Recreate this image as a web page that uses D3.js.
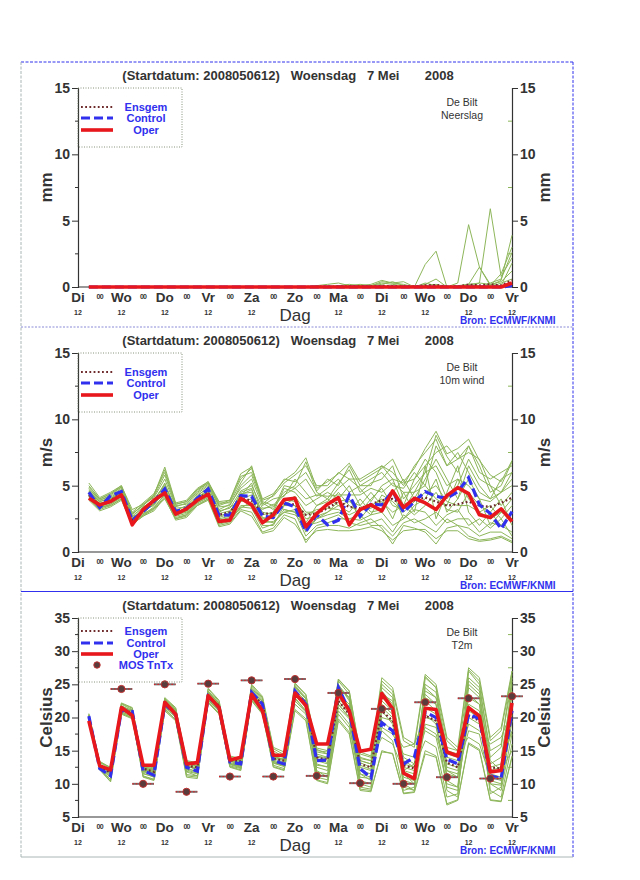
<!DOCTYPE html>
<html>
  <head>
    <meta http-equiv="Content-Type" content="text/html;charset=utf-8"/>
    <script src="https://d3js.org/d3.v7.min.js"></script>
    <style type="text/css">
    body { margin: 0; background: #fff; }
    text { font-family: "Liberation Sans", Arial, sans-serif; }
    </style>
  </head>
  <body>
    <script type="text/javascript">
    // forecast steps, hours after Di 12 UTC
    var hours = d3.range(6, 241, 6);
    var dayNames = ["Di", "Wo", "Do", "Vr", "Za", "Zo", "Ma", "Di", "Wo", "Do", "Vr"];
    var titleText = "(Startdatum: 2008050612)   Woensdag   7 Mei       2008";

    // ---- Neerslag (mm)
    var precipOper = [0,0,0,0,0,0,0,0,0,0,0,0,0,0,0,0,0,0,0,0,0,0,0,0,0,0,0,0,0,0,0,0,0,0,0,0,0,0,0,0.3];
    var precipControl = [0,0,0,0,0,0,0,0,0,0,0,0,0,0,0,0,0,0,0,0,0,0,0,0,0,0,0,0,0,0,0,0,0,0,0,0,0,0,0,0.1];
    var precipMean = [0,0,0,0,0,0,0,0,0,0,0,0,0,0,0,0,0,0,0,0,0,0.02,0.03,0.04,0.05,0.04,0.05,0.08,0.07,0.05,0.04,0.12,0.15,0.03,0.05,0.18,0.12,0.2,0.12,0.5];
    var precipMembers = [
      [0,0,0,0,0,0,0,0,0,0,0,0,0,0,0,0,0,0,0,0,0,0,0,0.1,0.2,0.1,0.2,0.5,0.3,0.4,0,1.7,2.7,0,0,0.2,0.1,0,0.3,0.6],
      [0,0,0,0,0,0,0,0,0,0,0,0,0,0,0,0,0,0,0,0,0,0,0,0,0,0,0.1,0.3,0.2,0.1,0,0.2,0.6,0,0.3,4.7,1.5,0.1,0.5,3.9],
      [0,0,0,0,0,0,0,0,0,0,0,0,0,0,0,0,0,0,0,0,0,0,0,0,0,0,0,0,0,0,0,0,0,0,0,0,0.3,5.9,0.8,2.2],
      [0,0,0,0,0,0,0,0,0,0,0,0,0,0,0,0,0,0,0,0,0,0.1,0.2,0.3,0.1,0.2,0.1,0.4,0.3,0.2,0,0.3,0.1,0,0.1,0.2,0.3,0.2,0.4,1.2],
      [0,0,0,0,0,0,0,0,0,0,0,0,0,0,0,0,0,0,0,0,0,0,0,0,0,0.1,0.1,0.2,0.4,0.1,0,0.1,0.2,0,0,0.1,0,0.1,1.0,3.0],
      [0,0,0,0,0,0,0,0,0,0,0,0,0,0,0,0,0,0,0,0,0,0,0,0,0,0,0,0.1,0,0,0,0,0,0,0,0.2,1.5,0.2,0.1,1.8],
      [0,0,0,0,0,0,0,0,0,0,0,0,0,0,0,0,0,0,0,0,0,0,0,0,0,0,0,0,0,0,0,0,0,0,0,0,0,0.3,0.6,2.6]
    ];

    // ---- 10m wind (m/s)
    var windOper = [4.05,3.55,3.8,4.3,2.05,3.2,3.9,4.45,2.85,3.25,3.9,4.35,2.3,2.4,4.05,3.55,2.2,2.8,3.95,4.05,1.9,2.9,3.6,4.1,2.05,3.2,3.55,3.1,4.6,3.35,4.05,3.7,3.2,4.25,4.85,4.4,2.8,2.6,3.25,2.3];
    var windControl = [4.5,3.35,4.25,4.55,2.4,3.05,3.8,4.75,3.05,3.3,4.05,4.75,2.75,2.8,4.25,4.2,2.7,2.6,3.7,3.4,1.55,2.8,2.05,2.4,4.3,2.7,3.6,3.55,4.6,3.0,3.8,4.55,4.2,4.05,4.55,5.6,3.55,2.9,1.75,3.05];
    var windMean = [4.3,3.5,3.9,4.4,2.4,3.1,3.8,4.6,3.0,3.2,4.0,4.5,2.8,3.0,4.0,3.9,2.9,2.9,3.6,3.6,2.8,2.9,3.3,3.8,3.4,3.3,3.6,3.9,4.0,3.5,3.9,4.1,3.8,3.5,3.6,3.8,3.5,3.4,3.7,4.1];
    var windMembers = [
      [4.8,3.9,4.3,4.9,2.9,3.5,4.2,5.8,3.5,3.6,4.6,5.2,3.5,3.8,5.5,6.3,3.8,3.5,4.5,5.0,6.8,4.5,4.0,5.2,6.2,4.5,5.2,5.5,6.5,4.0,5.0,6.0,8.8,7.2,6.0,8.0,6.5,4.5,5.0,6.8],
      [4.0,3.2,3.5,4.0,2.0,2.8,3.2,4.2,2.5,2.7,3.6,4.0,2.0,2.2,3.2,3.0,1.5,1.8,2.8,2.5,0.7,1.8,2.0,2.0,1.8,2.2,2.5,1.8,0.6,2.0,1.8,1.5,0.6,1.8,2.0,1.2,0.9,1.0,1.2,0.8],
      [4.5,3.6,3.9,4.5,2.4,3.1,3.9,4.8,3.0,3.3,4.1,4.7,2.6,2.9,4.5,4.8,2.5,2.6,3.8,4.2,3.0,3.0,3.5,4.5,3.5,3.0,4.0,4.8,3.5,3.2,4.5,5.0,4.0,3.5,5.5,4.0,3.0,3.5,2.5,3.5],
      [4.2,3.4,3.7,4.2,2.6,3.0,3.6,4.5,2.8,3.0,3.8,4.3,3.0,3.4,3.8,4.0,3.2,3.6,3.2,3.0,2.2,3.5,4.0,3.5,3.0,4.0,3.0,3.2,4.5,2.5,3.5,4.0,5.5,3.0,4.0,5.5,4.0,2.0,3.0,4.0],
      [5.2,4.1,4.5,5.0,3.2,3.6,4.3,6.4,3.7,3.9,4.8,5.3,3.8,3.9,5.9,6.4,4.0,4.4,5.4,6.0,7.1,4.8,5.3,5.9,6.7,5.3,5.8,6.3,7.0,5.3,6.3,7.8,9.1,7.4,7.8,8.5,6.9,5.8,5.3,6.9],
      [4.6,3.5,4.0,4.6,2.2,3.3,4.0,5.0,3.2,3.0,4.3,4.8,2.4,2.6,4.0,4.3,2.0,2.0,3.5,3.5,1.5,2.5,3.0,3.8,4.0,2.5,3.5,4.0,2.5,4.5,3.0,6.5,2.5,4.5,6.5,3.0,2.0,3.0,4.0,2.0],
      [4.3,3.7,3.8,4.4,2.7,2.9,3.7,4.6,2.9,3.4,4.0,4.5,2.9,3.1,4.2,5.2,2.8,3.0,4.8,4.5,3.5,4.0,4.5,4.0,5.0,3.5,4.5,3.5,4.5,5.5,4.0,5.5,7.0,5.5,4.0,6.5,5.0,4.0,4.5,5.0],
      [3.9,3.1,3.4,3.9,2.1,2.7,3.1,4.1,2.4,2.6,3.5,3.9,1.9,2.1,3.1,2.7,1.4,1.6,2.6,2.1,0.9,1.6,1.7,1.6,1.6,1.7,1.9,1.6,0.9,1.6,1.7,1.7,1.0,1.6,1.6,1.0,0.8,0.9,1.1,0.7],
      [4.4,3.8,4.1,4.7,2.5,3.4,3.8,5.2,3.1,3.5,4.4,5.0,3.2,3.6,4.8,5.5,3.5,4.0,4.2,5.5,4.5,3.5,3.8,4.8,5.5,4.8,3.8,5.0,5.5,3.5,5.5,7.0,6.0,4.0,5.0,7.0,5.5,5.0,3.5,4.5],
      [4.1,3.3,3.6,4.1,2.3,2.8,3.4,4.3,2.6,2.8,3.7,4.1,2.2,2.4,3.5,3.5,2.2,2.3,3.0,2.8,2.0,2.2,2.5,2.8,2.2,2.0,2.2,2.5,1.5,2.8,2.2,2.5,3.0,2.2,2.5,2.5,1.5,2.2,2.0,1.5],
      [4.7,3.9,4.2,4.8,2.8,3.6,4.1,5.5,3.4,3.7,4.5,5.1,3.4,3.5,5.0,5.8,3.7,3.2,5.0,4.8,5.5,4.2,4.8,5.5,4.5,5.0,5.5,6.0,5.0,4.8,6.0,5.0,8.0,6.5,7.5,6.0,4.5,4.0,5.5,6.0],
      [4.3,3.5,3.9,4.3,2.5,3.2,3.5,4.7,3.0,3.2,3.9,4.6,2.7,3.0,4.4,4.5,3.0,2.8,4.0,3.8,2.8,3.2,3.3,3.2,2.8,3.2,3.3,3.8,3.0,3.5,2.8,3.5,4.5,3.2,3.0,4.5,3.5,3.0,2.0,3.0],
      [4.9,4.0,4.4,5.0,3.0,3.7,4.4,6.0,3.6,3.8,4.7,5.3,3.6,3.9,5.7,6.0,3.9,4.2,5.2,5.8,6.5,5.0,5.0,6.0,5.5,5.5,6.0,6.5,6.0,5.0,6.5,7.5,8.5,6.5,7.0,8.0,6.0,5.5,6.0,6.5],
      [4.2,3.3,3.6,4.2,2.2,2.9,3.3,4.4,2.7,2.9,3.7,4.2,2.1,2.3,3.4,3.3,1.8,2.1,3.2,3.0,1.2,2.0,2.2,2.5,2.5,2.8,2.0,2.0,1.2,2.2,2.5,2.0,1.5,2.5,2.0,1.8,1.2,1.5,1.5,1.0],
      [4.6,3.8,4.0,4.6,2.7,3.4,3.9,5.1,3.3,3.4,4.2,4.9,3.1,3.3,4.6,5.0,3.3,3.4,4.3,4.8,4.0,4.3,4.2,4.3,4.3,4.3,4.8,4.5,5.2,4.5,4.5,6.0,6.5,5.0,5.5,5.0,4.0,3.8,4.5,5.5],
      [4.4,3.6,4.0,4.5,2.3,3.2,3.6,4.9,2.8,3.1,4.1,4.6,2.5,2.7,4.3,4.7,2.6,2.5,3.6,4.0,2.5,2.7,3.0,3.5,3.8,3.5,2.8,4.3,3.8,3.0,3.8,4.5,5.0,3.8,3.5,3.5,3.0,2.5,3.0,2.5],
      [5.0,4.0,4.4,4.9,2.9,3.5,4.3,6.2,3.6,3.8,4.7,5.2,3.7,3.7,5.2,6.5,3.6,4.3,5.5,5.3,6.0,4.6,5.5,5.0,6.5,5.0,5.0,6.5,5.5,5.2,5.5,6.5,7.5,8.0,7.0,7.5,7.0,5.0,4.5,6.0],
      [4.0,3.4,3.5,4.0,2.1,2.7,3.3,4.0,2.5,2.8,3.5,4.0,2.3,2.5,3.3,3.8,2.4,2.2,3.0,3.2,1.8,2.5,2.8,3.0,2.5,2.4,2.8,3.0,2.0,2.5,3.2,3.0,2.0,2.8,3.2,2.0,2.5,1.8,2.5,1.2]
    ];

    // ---- T2m (Celsius)
    var tempOper = [19.5,12.7,12.1,21.5,20.3,12.8,12.8,22.3,20.5,13.0,13.2,23.3,21.5,13.6,14.0,23.5,21.0,14.3,14.3,23.7,21.8,16.0,16.0,23.7,21.0,14.9,15.2,23.6,21.3,11.6,10.8,21.4,21.2,14.8,14.2,21.5,20.2,11.8,12.0,22.2];
    var tempControl = [20.2,12.3,11.2,21.1,20.9,12.0,11.3,22.0,20.5,12.5,11.9,23.2,21.5,13.3,13.0,23.8,22.0,13.5,13.0,24.0,22.0,13.5,13.6,24.5,21.0,12.3,10.9,19.2,18.0,13.0,14.0,20.8,20.0,13.7,13.0,20.5,19.8,11.2,10.8,21.0];
    var tempMean = [20.0,12.6,11.7,21.3,20.7,12.3,11.8,22.1,20.5,12.7,12.5,23.0,21.8,13.6,13.4,23.3,22.2,13.8,13.5,23.5,22.3,14.0,13.6,22.5,20.5,13.0,12.5,21.0,19.5,12.8,12.3,20.3,19.5,13.2,12.5,20.3,19.5,12.5,12.3,20.5];
    var tempMembers = [
      [20.4,13.2,12.3,22.0,21.2,12.6,12.2,22.9,21.2,13.2,12.6,24.0,22.2,13.8,13.5,24.6,22.8,15.0,14.0,24.8,23.0,15.2,14.5,25.5,23.5,13.8,13.5,25.5,24.0,16.5,15.5,26.2,24.5,16.5,15.0,27.2,25.5,16.5,18.0,26.5],
      [19.9,12.2,10.4,20.6,20.0,11.2,10.7,21.2,19.7,11.2,11.0,22.3,20.6,12.6,12.1,22.6,20.6,12.6,12.1,21.2,19.8,10.6,10.2,19.8,17.8,9.2,9.0,14.8,14.6,8.6,8.8,15.0,14.2,7.0,7.6,16.2,15.2,7.6,7.4,14.2],
      [20.2,12.8,11.5,21.4,20.6,12.0,11.4,22.0,20.4,12.4,11.8,23.0,21.4,13.2,12.8,23.6,21.8,13.6,13.0,23.4,21.8,12.8,12.6,24.0,21.5,11.5,10.5,21.0,19.0,11.0,10.5,22.5,21.0,12.0,11.0,23.5,22.0,10.5,10.0,22.0],
      [20.0,12.5,11.8,21.2,20.3,12.3,12.0,22.3,20.8,12.9,12.3,23.3,21.7,13.7,13.4,23.2,21.5,14.0,13.8,22.8,21.0,14.5,14.0,22.0,20.0,12.5,12.0,24.0,22.0,14.0,13.0,18.0,17.0,10.0,9.5,20.0,19.0,13.0,14.0,24.0],
      [20.5,13.0,12.0,21.6,21.0,12.5,11.5,22.5,21.0,13.0,12.8,23.6,22.0,14.0,13.5,23.9,22.4,14.5,14.2,24.5,22.8,14.8,14.5,23.0,21.0,14.0,13.5,17.0,16.0,12.0,13.0,24.5,23.0,15.0,14.5,21.0,20.0,12.0,12.5,18.0],
      [19.8,12.3,11.0,20.8,20.2,11.6,11.0,21.5,20.0,11.8,11.2,22.6,21.0,13.0,12.5,22.9,21.0,13.2,12.8,23.8,22.0,12.0,11.0,21.0,19.0,10.0,9.5,23.0,21.5,9.5,9.0,19.0,18.5,11.5,11.0,25.0,23.5,9.0,8.0,16.0],
      [20.3,12.9,11.9,21.8,20.8,12.4,12.1,22.6,20.9,12.7,12.2,23.5,21.9,13.5,13.0,24.2,22.4,13.8,13.3,24.2,22.5,13.0,12.5,25.0,22.5,12.0,11.5,19.5,18.0,15.5,16.0,20.0,19.5,9.0,8.0,27.0,25.0,14.0,15.5,27.0],
      [20.1,12.6,11.2,21.0,20.5,11.9,11.6,21.8,20.2,12.1,11.6,22.8,21.2,13.1,12.6,23.4,21.9,13.4,12.8,24.0,22.2,11.5,11.0,20.5,18.5,11.0,10.8,25.0,23.5,12.5,12.0,21.5,20.5,14.0,13.5,23.0,22.0,11.5,11.0,25.0],
      [20.0,13.4,12.4,22.1,21.4,12.7,12.4,22.8,21.4,13.4,13.0,24.3,22.4,13.9,13.6,24.8,23.0,15.3,14.4,25.0,23.4,15.0,14.8,25.7,24.0,14.5,14.0,22.5,21.0,10.0,9.0,26.0,24.5,13.0,12.5,19.0,18.0,16.0,17.0,21.0],
      [19.9,12.4,10.6,20.7,19.9,11.1,10.6,21.3,19.6,11.4,11.2,22.4,20.7,12.7,12.3,22.8,20.8,12.8,12.3,22.0,20.5,13.5,13.0,23.5,22.0,9.5,9.2,20.0,19.5,13.5,12.5,16.5,15.5,8.0,8.5,22.0,21.0,8.5,9.5,19.5],
      [20.2,12.7,12.0,21.5,20.5,12.2,11.8,22.2,20.6,12.8,12.0,23.1,21.5,13.4,13.2,23.7,22.0,14.2,13.6,23.5,21.5,14.0,13.8,24.5,23.0,13.2,12.5,24.5,23.0,11.5,10.0,25.0,23.8,15.5,15.0,17.0,16.0,11.0,10.5,26.0],
      [20.3,13.0,11.6,21.3,21.0,12.5,11.9,22.1,21.2,13.1,12.5,23.8,22.2,13.4,12.9,23.1,21.2,13.2,12.7,23.0,21.0,11.0,10.6,22.5,20.5,12.8,12.2,18.0,16.5,9.0,9.5,23.5,22.0,12.5,12.0,24.5,23.0,13.5,12.0,15.0],
      [20.6,13.3,12.5,22.2,21.5,12.9,12.5,23.0,21.5,13.5,13.2,24.4,22.6,14.2,13.8,25.0,23.2,15.5,14.8,25.2,23.5,15.4,15.0,25.8,24.0,14.8,14.2,26.0,24.5,17.0,16.0,26.5,25.0,17.0,15.5,27.5,26.0,17.0,18.5,27.0],
      [19.8,12.1,10.3,20.5,19.8,11.0,10.5,21.0,19.5,11.0,10.8,22.2,20.5,12.5,12.0,22.5,20.5,12.5,12.0,21.0,19.5,10.5,10.0,19.5,17.5,9.0,8.8,15.0,14.5,8.5,8.7,14.5,14.0,6.8,7.5,16.0,15.0,7.5,7.3,14.0],
      [20.1,12.9,11.7,21.6,20.4,12.1,11.7,22.2,20.7,12.6,12.4,23.4,21.6,13.6,13.1,23.9,22.1,14.0,13.5,23.6,21.8,13.8,13.2,24.8,22.8,13.5,13.0,22.0,20.5,12.0,11.5,23.0,22.0,10.5,9.5,25.5,24.0,12.5,13.0,23.5],
      [20.3,12.5,11.4,21.1,20.7,11.8,11.3,21.9,20.3,12.2,11.9,22.9,21.3,13.0,12.7,23.2,21.6,13.4,12.9,22.5,20.8,12.5,12.0,21.5,19.8,11.5,11.0,18.5,17.5,14.5,14.0,18.5,17.5,12.0,11.5,18.0,17.5,10.0,9.0,17.5],
      [20.0,12.7,11.9,21.7,21.1,12.6,12.2,22.7,21.1,13.2,12.7,23.7,22.1,13.8,13.3,24.4,22.6,14.6,13.9,24.6,22.9,14.2,13.9,24.8,23.0,13.5,13.0,23.5,22.5,13.0,12.5,24.0,23.0,14.5,14.0,26.0,24.5,15.0,16.0,25.5],
      [20.2,12.4,11.1,20.9,20.1,11.5,11.1,21.6,20.1,11.9,11.5,22.7,21.1,12.9,12.4,23.0,21.3,13.1,12.6,23.3,21.6,11.8,11.5,22.0,20.0,10.5,10.0,21.5,20.0,10.5,10.0,20.5,19.0,9.5,9.0,21.5,20.5,10.0,9.8,20.5]
    ];
    // MOS Tn/Tx
    var mosHours = [24,36,48,60,72,84,96,108,120,132,144,156,168,180,192,204,216,228,240];
    var mosValues = [24.3,10.0,25.0,8.8,25.1,11.1,25.6,11.1,25.8,11.2,23.7,10.1,21.3,10.0,22.3,11.0,22.9,10.8,23.2];

    var panels = [
      { top: 62, domain: [0, 15], ticks: [0, 5, 10, 15], unit: "mm", name: "Neerslag",
        oper: precipOper, control: precipControl, mean: precipMean, members: precipMembers, mos: false },
      { top: 327, domain: [0, 15], ticks: [0, 5, 10, 15], unit: "m/s", name: "10m wind",
        oper: windOper, control: windControl, mean: windMean, members: windMembers, mos: false },
      { top: 592, domain: [5, 35], ticks: [5, 10, 15, 20, 25, 30, 35], unit: "Celsius", name: "T2m",
        oper: tempOper, control: tempControl, mean: tempMean, members: tempMembers, mos: true }
    ];

    var width = 640, height = 880;
    var green = "#8db65a", red = "#e8171c", blue = "#3030ee", meanCol = "#6e2a2a", dark = "#333";

    var svg = d3.select("body").append("svg")
      .attr("width", width)
      .attr("height", height);

    var x = d3.scaleLinear().domain([0, 240]).range([78, 512]);

    // frame
    svg.append("line").attr("x1", 21).attr("x2", 573).attr("y1", 62).attr("y2", 62)
      .attr("stroke", blue).attr("stroke-dasharray", "3,1.5");
    svg.append("line").attr("x1", 21).attr("x2", 21).attr("y1", 62).attr("y2", 857)
      .attr("stroke", "#aab4b4").attr("stroke-dasharray", "3,1.5");
    svg.append("line").attr("x1", 573).attr("x2", 573).attr("y1", 62).attr("y2", 857)
      .attr("stroke", blue).attr("stroke-dasharray", "3,1.5");
    svg.append("line").attr("x1", 21).attr("x2", 573).attr("y1", 327).attr("y2", 327)
      .attr("stroke", "#8a8ad8").attr("stroke-dasharray", "2,1.5");
    svg.append("line").attr("x1", 21).attr("x2", 573).attr("y1", 591.5).attr("y2", 591.5)
      .attr("stroke", blue);
    svg.append("line").attr("x1", 21).attr("x2", 573).attr("y1", 857).attr("y2", 857)
      .attr("stroke", "#aab4b4");

    panels.forEach(function(p) {
      var g = svg.append("g").attr("transform", "translate(0," + p.top + ")");
      var y = d3.scaleLinear().domain(p.domain).range([225, 26]);
      var line = d3.line()
        .x(function(d, i) { return x(hours[i]); })
        .y(function(d) { return y(d); });

      g.append("text")
        .attr("x", 288).attr("y", 17.5)
        .attr("text-anchor", "middle")
        .style("white-space", "pre")
        .attr("font-size", 13).attr("font-weight", "bold").attr("fill", dark)
        .text(titleText);

      // axes
      var yLeft = d3.axisLeft(y).tickValues(p.ticks).tickSize(6).tickPadding(2).tickFormat(d3.format("d"));
      var yRight = d3.axisRight(y).tickValues(p.ticks).tickSize(6).tickPadding(2).tickFormat(d3.format("d"));
      var ga = g.append("g").attr("transform", "translate(78,0)").call(yLeft);
      var gb = g.append("g").attr("transform", "translate(512,0)").call(yRight);
      [ga, gb].forEach(function(a) {
        a.select(".domain").attr("stroke", dark).attr("stroke-width", 1.2);
        a.selectAll(".tick line").attr("stroke", dark);
        a.selectAll(".tick text").attr("font-size", 14).attr("font-weight", "bold")
          .attr("fill", dark).style("font-family", "Liberation Sans, Arial, sans-serif");
      });
      // minor ticks
      var minors = d3.range(p.domain[0] + 2.5, p.domain[1], 5);
      g.selectAll(".minor").data(minors).enter().append("line")
        .attr("x1", 508).attr("x2", 512)
        .attr("y1", function(d) { return y(d); }).attr("y2", function(d) { return y(d); })
        .attr("stroke", green);
      g.selectAll(".minorL").data(minors).enter().append("line")
        .attr("x1", 75).attr("x2", 78)
        .attr("y1", function(d) { return y(d); }).attr("y2", function(d) { return y(d); })
        .attr("stroke", dark);

      // bottom axis line
      g.append("line").attr("x1", 78).attr("x2", 512)
        .attr("y1", y(p.domain[0])).attr("y2", y(p.domain[0]))
        .attr("stroke", dark).attr("stroke-width", 1.2);

      // y labels
      [46, 544].forEach(function(cx) {
        g.append("text")
          .attr("transform", "translate(" + cx + "," + ((26 + 225) / 2) + ") rotate(-90)")
          .attr("text-anchor", "middle").attr("dy", "0.35em")
          .attr("font-size", 17).attr("font-weight", "bold").attr("fill", dark)
          .text(p.unit);
      });

      // x labels
      g.selectAll(".day").data(dayNames).enter().append("text")
        .attr("x", function(d, i) { return x(i * 24); })
        .attr("y", 239.5)
        .attr("text-anchor", "middle")
        .attr("font-size", 13.5).attr("font-weight", "bold").attr("fill", dark)
        .text(function(d) { return d; });
      // no "12" below Zo, where "Dag" sits
      g.selectAll(".twelve").data(d3.range(0, 241, 24).filter(function(h) { return h !== 120; }))
        .enter().append("text")
        .attr("x", function(d) { return x(d); })
        .attr("y", 253)
        .attr("text-anchor", "middle")
        .attr("font-size", 7).attr("font-weight", "bold").attr("fill", dark)
        .text("12");
      g.selectAll(".zero").data(d3.range(12, 240, 24)).enter().append("text")
        .attr("x", function(d) { return x(d); })
        .attr("y", 237)
        .attr("text-anchor", "middle")
        .attr("font-size", 7).attr("font-weight", "bold").attr("fill", dark)
        .attr("letter-spacing", -0.8)
        .text("00");
      g.append("text")
        .attr("x", 295).attr("y", 258.5)
        .attr("text-anchor", "middle")
        .attr("font-size", 17).attr("fill", dark)
        .text("Dag");
      g.append("text")
        .attr("x", 460).attr("y", 262)
        .attr("font-size", 10).attr("font-weight", "bold").attr("fill", blue)
        .text("Bron: ECMWF/KNMI");

      // station / parameter
      g.append("text").attr("x", 462).attr("y", 44).attr("text-anchor", "middle")
        .attr("font-size", 10.5).attr("fill", dark).text("De Bilt");
      g.append("text").attr("x", 462).attr("y", 57).attr("text-anchor", "middle")
        .attr("font-size", 10.5).attr("fill", dark).text(p.name);

      // members
      g.selectAll(".member").data(p.members).enter().append("path")
        .attr("d", line)
        .attr("fill", "none").attr("stroke", green).attr("stroke-width", 1);
      g.append("path").attr("d", line(p.mean))
        .attr("fill", "none").attr("stroke", meanCol).attr("stroke-width", 2.2)
        .attr("stroke-dasharray", "1.8,2.4");
      g.append("path").attr("d", line(p.control))
        .attr("fill", "none").attr("stroke", blue).attr("stroke-width", 3.2)
        .attr("stroke-dasharray", "9,4");
      g.append("path").attr("d", line(p.oper))
        .attr("fill", "none").attr("stroke", red).attr("stroke-width", 3.6)
        .attr("stroke-linejoin", "round");

      if (p.mos) {
        var mg = g.selectAll(".mos").data(mosValues).enter().append("g");
        mg.append("line")
          .attr("x1", function(d, i) { return x(mosHours[i] - 6); })
          .attr("x2", function(d, i) { return x(mosHours[i] + 6); })
          .attr("y1", function(d) { return y(d); }).attr("y2", function(d) { return y(d); })
          .attr("stroke", "#7a6a6a").attr("stroke-width", 2);
        mg.append("line")
          .attr("x1", function(d, i) { return x(mosHours[i] - 6); })
          .attr("x2", function(d, i) { return x(mosHours[i] + 6); })
          .attr("y1", function(d) { return y(d); }).attr("y2", function(d) { return y(d); })
          .attr("stroke", red).attr("stroke-width", 1).attr("stroke-dasharray", "1.5,2");
        mg.append("circle")
          .attr("cx", function(d, i) { return x(mosHours[i]); })
          .attr("cy", function(d) { return y(d); })
          .attr("r", 3.6)
          .attr("fill", "#5a3c3c").attr("stroke", "#c03030").attr("stroke-width", 1);
      }

      // legend
      var lh = p.mos ? 64 : 59;
      g.append("rect").attr("x", 78).attr("y", 26).attr("width", 104).attr("height", lh)
        .attr("fill", "none")
        .attr("stroke", "#6a7a5a").attr("stroke-width", 0.8).attr("stroke-dasharray", "1,1.5");
      var rows = p.mos ? [39, 51, 62, 73] : [45, 56, 68];
      var labels = ["Ensgem", "Control", "Oper", "MOS TnTx"];
      var styles = [
        { stroke: meanCol, w: 2.2, dash: "1.8,2.4" },
        { stroke: blue, w: 3.2, dash: "9,4" },
        { stroke: red, w: 3.6, dash: null }
      ];
      rows.forEach(function(ry, k) {
        if (k < 3) {
          g.append("line").attr("x1", 81).attr("x2", 113).attr("y1", ry).attr("y2", ry)
            .attr("stroke", styles[k].stroke).attr("stroke-width", styles[k].w)
            .attr("stroke-dasharray", styles[k].dash);
        } else {
          g.append("circle").attr("cx", 97).attr("cy", ry).attr("r", 3.2)
            .attr("fill", "#5a3c3c").attr("stroke", "#c03030");
        }
        g.append("text").attr("x", 146).attr("y", ry).attr("dy", "0.35em")
          .attr("text-anchor", "middle")
          .attr("font-size", 11).attr("font-weight", "bold").attr("fill", blue)
          .text(labels[k]);
      });
    });
    </script>
  </body>
</html>
